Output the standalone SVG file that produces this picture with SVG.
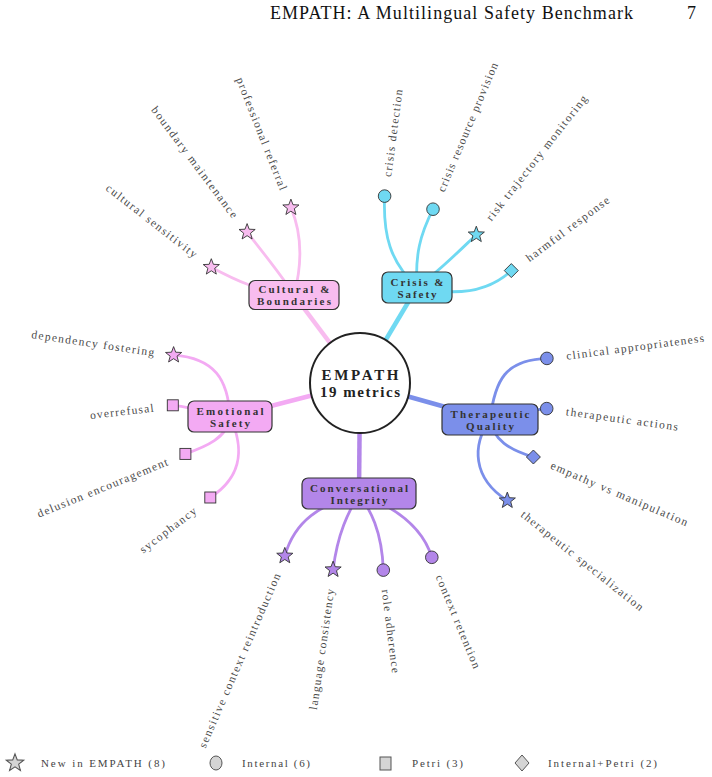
<svg xmlns="http://www.w3.org/2000/svg" xmlns:xlink="http://www.w3.org/1999/xlink" width="712" height="777" viewBox="0 0 712 777">
<style>
.hdr{font-family:"Liberation Serif",serif;font-size:18px;fill:#111}
.main{fill:none;stroke-width:4.5}
.leaf{fill:none;stroke-width:2.8;stroke-linecap:round}
.box{stroke:#333;stroke-width:1.2}
.bt{font-family:"Liberation Serif",serif;font-size:11px;font-weight:bold;fill:#333;text-anchor:middle;dominant-baseline:central}
.ct{font-family:"Liberation Serif",serif;font-size:15px;font-weight:bold;fill:#222;text-anchor:middle;dominant-baseline:central}
.mk{stroke:#333;stroke-width:0.9}
.lb{font-family:"Liberation Serif",serif;font-size:11.5px;fill:#4a4a4a;dominant-baseline:central}
.r{text-anchor:start}
.l{text-anchor:end}
.lg{font-family:"Liberation Serif",serif;font-size:11px;fill:#444;dominant-baseline:central}
.lgm{fill:#d4d4d4;stroke:#555;stroke-width:1}
.cCul{fill:#f8bcef}.sCul{stroke:#f8bcef}
.cCri{fill:#6fd9f2}.sCri{stroke:#6fd9f2}
.cEmo{fill:#f3aaf3}.sEmo{stroke:#f3aaf3}
.cThe{fill:#7b8fea}.sThe{stroke:#7b8fea}
.cCon{fill:#b386e9}.sCon{stroke:#b386e9}
</style>
<defs>
<path id="star" d="M0,-8.5 L2.1,-2.89 L8.08,-2.63 L3.4,1.1 L5,6.88 L0,3.57 L-5,6.88 L-3.4,1.1 L-8.08,-2.63 L-2.1,-2.89 Z"/>
<path id="dia" d="M0,-7 L7,0 L0,7 L-7,0 Z"/>
<rect id="sq" x="-5.5" y="-5.5" width="11" height="11"/>
</defs>

<text class="hdr" x="270" y="19" textLength="363" lengthAdjust="spacing">EMPATH: A Multilingual Safety Benchmark</text>
<text class="hdr" x="687" y="19">7</text>

<g id="connectors">
<line class="main sCul" x1="360" y1="383" x2="294" y2="295"/>
<line class="main sCri" x1="360" y1="383" x2="417" y2="287.5"/>
<line class="main sEmo" x1="360" y1="383" x2="230" y2="416.5"/>
<line class="main sThe" x1="360" y1="383" x2="490" y2="419.5"/>
<line class="main sCon" x1="360" y1="383" x2="359" y2="493.5"/>

<path class="leaf sCul" d="M294,295 C302,265 303,236 290.9,207.6"/>
<path class="leaf sCul" d="M294,295 C285,280 265,255 247.1,232.1"/>
<path class="leaf sCul" d="M294,295 C260,292 235,280 211.3,267.2"/>

<path class="leaf sCri" d="M417,287 C390,262 383,235 384.6,196.1"/>
<path class="leaf sCri" d="M417,287 C415,255 420,235 433,209.2"/>
<path class="leaf sCri" d="M417,287 C435,275 455,255 476.3,234.7"/>
<path class="leaf sCri" d="M417,287 C450,295 485,295 511.3,270.6"/>

<path class="leaf sThe" d="M490,419.5 C495,380 505,360 546.9,358.4"/>
<path class="leaf sThe" d="M490,419.5 C510,415 530,410 546.7,408.6"/>
<path class="leaf sThe" d="M490,419.5 C493,440 510,450 533.4,457"/>
<path class="leaf sThe" d="M490,419.5 C472,445 472,478 507.3,500.6"/>

<path class="leaf sCon" d="M359,493.5 C320,505 295,520 284.8,555.9"/>
<path class="leaf sCon" d="M359,493.5 C350,510 338,530 333.1,569.6"/>
<path class="leaf sCon" d="M359,493.5 C370,510 382,530 383.3,570.1"/>
<path class="leaf sCon" d="M359,493.5 C390,505 422,525 431.8,557.3"/>

<path class="leaf sEmo" d="M230,416.5 C228,380 215,358 173.6,355.1"/>
<path class="leaf sEmo" d="M230,416.5 C210,412 190,407 172.8,405.3"/>
<path class="leaf sEmo" d="M230,416.5 C228,438 205,447 185.4,453.9"/>
<path class="leaf sEmo" d="M230,416.5 C243,445 245,475 210.3,497.5"/>
</g>

<g id="center">
<circle cx="360" cy="383" r="50" fill="#fff" stroke="#222" stroke-width="2"/>
<text class="ct" x="360" y="374.5" textLength="77" lengthAdjust="spacing">EMPATH</text>
<text class="ct" x="360" y="392" textLength="80" lengthAdjust="spacing">19 metrics</text>
</g>

<g id="cat-cultural">
<rect class="box cCul" x="249" y="280.5" width="90" height="29" rx="6"/>
<text class="bt" x="294" y="289" textLength="71" lengthAdjust="spacing">Cultural &amp;</text>
<text class="bt" x="294" y="301" textLength="74" lengthAdjust="spacing">Boundaries</text>
</g>
<g id="cat-crisis">
<rect class="box cCri" x="382" y="272" width="70" height="31" rx="6"/>
<text class="bt" x="417" y="281.5" textLength="53" lengthAdjust="spacing">Crisis &amp;</text>
<text class="bt" x="417" y="293.5" textLength="39" lengthAdjust="spacing">Safety</text>
</g>
<g id="cat-emotional">
<rect class="box cEmo" x="188" y="401" width="84" height="31" rx="6"/>
<text class="bt" x="230" y="410.5" textLength="67" lengthAdjust="spacing">Emotional</text>
<text class="bt" x="230" y="422.5" textLength="40" lengthAdjust="spacing">Safety</text>
</g>
<g id="cat-therapeutic">
<rect class="box cThe" x="442" y="404" width="96" height="31" rx="6"/>
<text class="bt" x="490" y="413.5" textLength="79" lengthAdjust="spacing">Therapeutic</text>
<text class="bt" x="490" y="425.5" textLength="48" lengthAdjust="spacing">Quality</text>
</g>
<g id="cat-conversational">
<rect class="box cCon" x="302" y="478" width="114" height="31" rx="6"/>
<text class="bt" x="359" y="487.5" textLength="98" lengthAdjust="spacing">Conversational</text>
<text class="bt" x="359" y="499.5" textLength="57" lengthAdjust="spacing">Integrity</text>
</g>

<g id="leaf-professional-referral"><use href="#star" class="mk cCul" x="290.9" y="207.6"/><text class="lb l" transform="translate(283.8 189.5) rotate(68.5)" textLength="120" lengthAdjust="spacing">professional referral</text></g>
<g id="leaf-boundary-maintenance"><use href="#star" class="mk cCul" x="247.1" y="232.1"/><text class="lb l" transform="translate(235.4 216.5) rotate(53.2)" textLength="136" lengthAdjust="spacing">boundary maintenance</text></g>
<g id="leaf-cultural-sensitivity"><use href="#star" class="mk cCul" x="211.3" y="267.2"/><text class="lb l" transform="translate(195.9 255.2) rotate(37.9)" textLength="112" lengthAdjust="spacing">cultural sensitivity</text></g>

<g id="leaf-crisis-detection"><circle class="mk cCri" cx="384.6" cy="196.1" r="6.3"/><text class="lb r" transform="translate(387.1 176.8) rotate(-82.5)" textLength="88" lengthAdjust="spacing">crisis detection</text></g>
<g id="leaf-crisis-resource-provision"><circle class="mk cCri" cx="433" cy="209.2" r="6.3"/><text class="lb r" transform="translate(440.6 191.2) rotate(-67.2)" textLength="139" lengthAdjust="spacing">crisis resource provision</text></g>
<g id="leaf-risk-trajectory-monitoring"><use href="#star" class="mk cCri" x="476.3" y="234.7"/><text class="lb r" transform="translate(488.3 219.3) rotate(-51.9)" textLength="156" lengthAdjust="spacing">risk trajectory monitoring</text></g>
<g id="leaf-harmful-response"><use href="#dia" class="mk cCri" x="511.3" y="270.6"/><text class="lb r" transform="translate(527 259) rotate(-36.6)" textLength="101" lengthAdjust="spacing">harmful response</text></g>

<g id="leaf-clinical-appropriateness"><circle class="mk cThe" cx="546.9" cy="358.4" r="6.3"/><text class="lb r" transform="translate(566.2 355.9) rotate(-7.5)" textLength="139" lengthAdjust="spacing">clinical appropriateness</text></g>
<g id="leaf-therapeutic-actions"><circle class="mk cThe" cx="546.7" cy="408.6" r="6.3"/><text class="lb r" transform="translate(566.1 411.2) rotate(7.8)" textLength="113" lengthAdjust="spacing">therapeutic actions</text></g>
<g id="leaf-empathy-vs-manipulation"><use href="#dia" class="mk cThe" x="533.4" y="457"/><text class="lb r" transform="translate(551.3 464.6) rotate(23.1)" textLength="148" lengthAdjust="spacing">empathy vs manipulation</text></g>
<g id="leaf-therapeutic-specialization"><use href="#star" class="mk cThe" x="507.3" y="500.6"/><text class="lb r" transform="translate(522.6 512.8) rotate(38.6)" textLength="153" lengthAdjust="spacing">therapeutic specialization</text></g>

<g id="leaf-context-retention"><circle class="mk cCon" cx="431.8" cy="557.3" r="6.3"/><text class="lb r" transform="translate(439.3 575.3) rotate(67.6)" textLength="100" lengthAdjust="spacing">context retention</text></g>
<g id="leaf-role-adherence"><circle class="mk cCon" cx="383.3" cy="570.1" r="6.3"/><text class="lb r" transform="translate(385.7 589.4) rotate(82.9)" textLength="84" lengthAdjust="spacing">role adherence</text></g>
<g id="leaf-language-consistency"><use href="#star" class="mk cCon" x="333.1" y="569.6"/><text class="lb l" transform="translate(330.3 588.9) rotate(-81.8)" textLength="122" lengthAdjust="spacing">language consistency</text></g>
<g id="leaf-sensitive-context-reintroduction"><use href="#star" class="mk cCon" x="284.8" y="555.9"/><text class="lb l" transform="translate(277.1 573.8) rotate(-66.5)" textLength="189" lengthAdjust="spacing">sensitive context reintroduction</text></g>

<g id="leaf-sycophancy"><use href="#sq" class="mk cEmo" x="210.3" y="497.5"/><text class="lb l" transform="translate(194.8 509.3) rotate(-37.4)" textLength="68" lengthAdjust="spacing">sycophancy</text></g>
<g id="leaf-delusion-encouragement"><use href="#sq" class="mk cEmo" x="185.4" y="453.9"/><text class="lb l" transform="translate(167.3 461.3) rotate(-22.1)" textLength="140" lengthAdjust="spacing">delusion encouragement</text></g>
<g id="leaf-overrefusal"><use href="#sq" class="mk cEmo" x="172.8" y="405.3"/><text class="lb l" transform="translate(153.5 407.6) rotate(-6.8)" textLength="64" lengthAdjust="spacing">overrefusal</text></g>
<g id="leaf-dependency-fostering"><use href="#star" class="mk cEmo" x="173.6" y="355.1"/><text class="lb l" transform="translate(154.3 352.3) rotate(8.5)" textLength="124" lengthAdjust="spacing">dependency fostering</text></g>

<g id="legend">
<use href="#star" class="lgm" transform="translate(15 763) scale(1.08)"/>
<text class="lg" x="41" y="763" textLength="124" lengthAdjust="spacing">New in EMPATH (8)</text>
<ellipse class="lgm" cx="216" cy="763" rx="6" ry="7"/>
<text class="lg" x="242" y="763" textLength="68" lengthAdjust="spacing">Internal (6)</text>
<rect class="lgm" x="380" y="757" width="11" height="13"/>
<text class="lg" x="412" y="763" textLength="51" lengthAdjust="spacing">Petri (3)</text>
<path class="lgm" d="M522,755 L529,763 L522,771 L515,763 Z"/>
<text class="lg" x="548" y="763" textLength="109" lengthAdjust="spacing">Internal+Petri (2)</text>
</g>
</svg>
